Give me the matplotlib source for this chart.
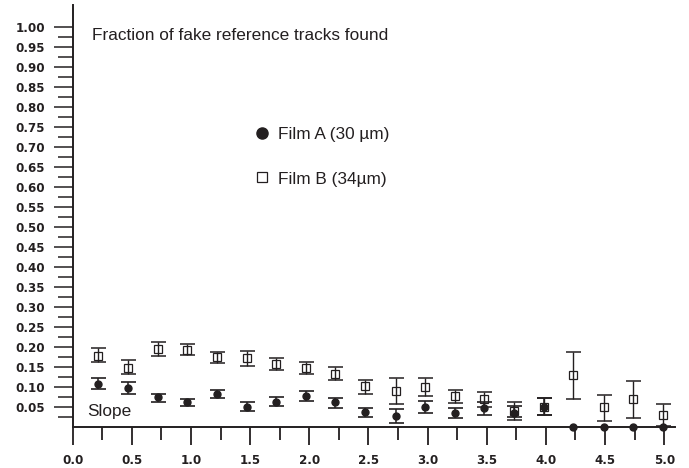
import matplotlib
matplotlib.use("Agg")
import matplotlib.pyplot as plt
from matplotlib.lines import Line2D
from matplotlib.ticker import MultipleLocator, FixedLocator, FixedFormatter
import numpy as np

# Slope bins (x positions of the measured points)
slope = [0.21, 0.47, 0.72, 0.97, 1.22, 1.47, 1.72, 1.97, 2.22, 2.47,
         2.73, 2.98, 3.23, 3.48, 3.73, 3.98, 4.23, 4.49, 4.74, 4.99]

# Film A (30 um): fraction found with lower / upper error bounds
film_a = [0.108, 0.097, 0.073, 0.061, 0.081, 0.050, 0.062, 0.0765, 0.061, 0.036,
          0.026, 0.050, 0.034, 0.046, 0.033, 0.050, 0.0, 0.0, 0.0, 0.0]
film_a_low = [0.094, 0.082, 0.0615, 0.052, 0.071, 0.039, 0.051, 0.064, 0.047, 0.025,
              0.008, 0.034, 0.022, 0.029, 0.025, 0.029, 0.0, 0.0, 0.0, 0.0]
film_a_high = [0.122, 0.112, 0.083, 0.070, 0.092, 0.061, 0.074, 0.089, 0.072, 0.047,
               0.043, 0.065, 0.0465, 0.062, 0.052, 0.071, 0.0, 0.0, 0.0, 0.0]

# Film B (34 um)
film_b = [0.178, 0.148, 0.195, 0.193, 0.175, 0.171, 0.157, 0.1465, 0.133, 0.1015,
          0.090, 0.100, 0.0765, 0.068, 0.038, 0.050, 0.129, 0.048, 0.068, 0.029]
film_b_low = [0.161, 0.131, 0.178, 0.179, 0.160, 0.1515, 0.141, 0.1315, 0.1165, 0.082,
              0.0565, 0.077, 0.058, 0.050, 0.0165, 0.029, 0.068, 0.014, 0.0215, 0.002]
film_b_high = [0.196, 0.166, 0.211, 0.2065, 0.187, 0.190, 0.173, 0.161, 0.150, 0.118,
               0.122, 0.121, 0.093, 0.086, 0.061, 0.071, 0.188, 0.080, 0.115, 0.0565]

x_ticks = [0.0, 0.5, 1.0, 1.5, 2.0, 2.5, 3.0, 3.5, 4.0, 4.5, 5.0]
x_labels = ["0.0", "0.5", "1.0", "1.5", "2.0", "2.5", "3.0", "3.5", "4.0", "4.5", "5.0"]
y_ticks = [round(0.05 * i, 2) for i in range(1, 21)]
y_labels = [f"{v:.2f}" for v in y_ticks]

label_a = "Film A (30 \u00b5m)"
label_b = "Film B (34\u00b5m)"
title = "Fraction of fake reference tracks found"
x_name = "Slope"

INK = "#231f20"
TICK_FONT = dict(family="DejaVu Sans", weight="bold", size=8.6)
TEXT_FONT = dict(family="Liberation Sans", size=12.4)

fig = plt.figure(figsize=(6.89, 4.68), dpi=100)
ax = fig.add_axes([0.1055, 0.0883, 0.874, 0.901])

a = np.array(film_a)
b = np.array(film_b)
yerr_a = [a - np.array(film_a_low), np.array(film_a_high) - a]
yerr_b = [b - np.array(film_b_low), np.array(film_b_high) - b]

has_err = a > 0
ax.errorbar(np.array(slope)[has_err], a[has_err],
            yerr=[yerr_a[0][has_err], yerr_a[1][has_err]],
            fmt="none", ecolor=INK, elinewidth=1.1, capsize=5.4, capthick=1.2, zorder=3)
ax.plot(slope, film_a, linestyle="none", marker="o", markersize=5,
        color=INK, zorder=5, clip_on=False)

ax.errorbar(slope, film_b, yerr=yerr_b, fmt="none", ecolor=INK,
            elinewidth=1.0, capsize=5.4, capthick=1.1, zorder=3)
ax.plot(slope, film_b, linestyle="none", marker="s", markersize=5.5,
        markerfacecolor="none", markeredgecolor=INK, markeredgewidth=0.9, zorder=4)

ax.set_xlim(0, 5.09)
ax.set_ylim(0, 1.055)

for side in ("top", "right"):
    ax.spines[side].set_visible(False)
for side in ("left", "bottom"):
    ax.spines[side].set_linewidth(1.4)
    ax.spines[side].set_color(INK)

ax.xaxis.set_major_locator(FixedLocator(x_ticks))
ax.xaxis.set_major_formatter(FixedFormatter(x_labels))
ax.xaxis.set_minor_locator(MultipleLocator(0.25))
ax.yaxis.set_major_locator(FixedLocator(y_ticks))
ax.yaxis.set_major_formatter(FixedFormatter(y_labels))
ax.yaxis.set_minor_locator(FixedLocator([0.025 + 0.05 * i for i in range(20)]))

ax.tick_params(axis="x", which="major", direction="out", length=13, width=1.3,
               color=INK, pad=7)
ax.tick_params(axis="x", which="minor", direction="out", length=9.5, width=1.3, color=INK)
ax.tick_params(axis="y", which="major", direction="out", length=13.5, width=1.1,
               color=INK, pad=6.5)
ax.tick_params(axis="y", which="minor", direction="out", length=11, width=1.1, color=INK)
for lab in ax.get_xticklabels() + ax.get_yticklabels():
    lab.set_fontfamily(TICK_FONT["family"])
    lab.set_fontweight(TICK_FONT["weight"])
    lab.set_fontsize(TICK_FONT["size"])
    lab.set_color(INK)

ax.text(0.163, 0.979, title, ha="left", va="center", color=INK, **TEXT_FONT)
ax.text(0.125, 0.039, x_name, ha="left", va="center", color=INK, **TEXT_FONT)

handles = [
    Line2D([], [], linestyle="none", marker="o", markersize=8, color=INK),
    Line2D([], [], linestyle="none", marker="s", markersize=6.5,
           markerfacecolor="none", markeredgecolor=INK, markeredgewidth=0.9),
]
leg = ax.legend(handles, [label_a, label_b], loc="center left",
                bbox_to_anchor=(0.3017, 0.640), frameon=False, numpoints=1,
                handlelength=0.9, handletextpad=0.5, labelspacing=1.7,
                borderpad=0, borderaxespad=0,
                prop={"family": "Liberation Sans", "size": 12.4})
for t in leg.get_texts():
    t.set_color(INK)

fig.savefig("out.png", dpi=100)
